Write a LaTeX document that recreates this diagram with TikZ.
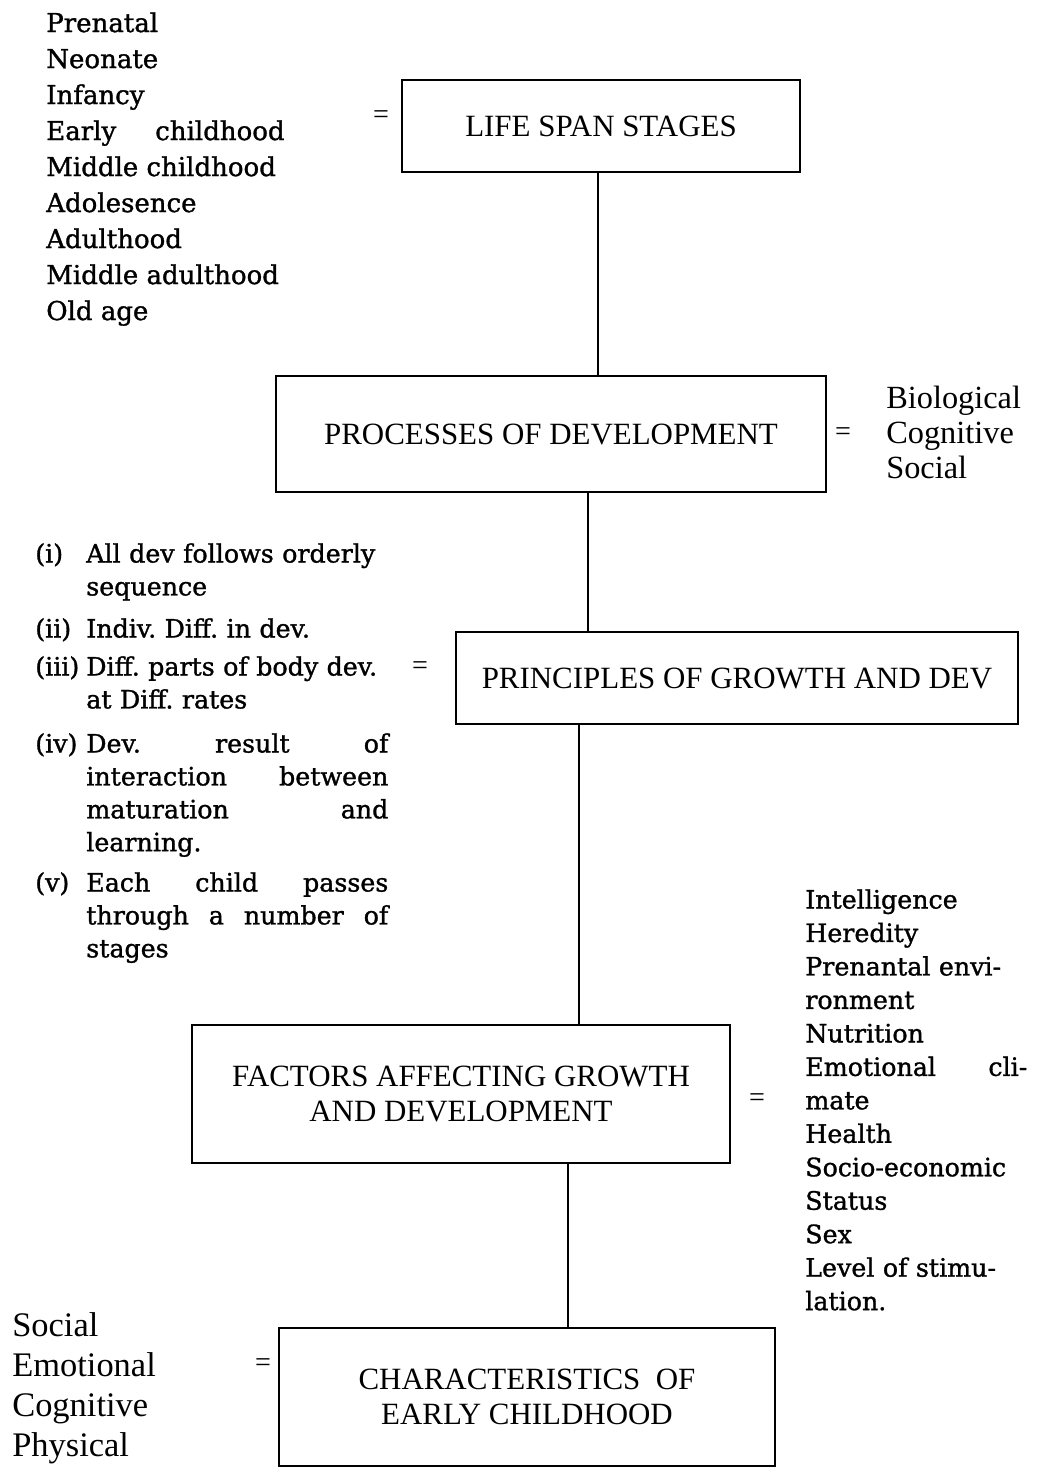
\documentclass[tikz,border=0pt]{standalone}
\usepackage{fontspec}
\setmainfont{Liberation Serif}
\newfontfamily\listfont[FakeBold=1.2]{DejaVu Serif}
\usetikzlibrary{positioning}
\frenchspacing

\begin{document}
\begin{tikzpicture}[
    x=0.025cm, y=-0.025cm,
    box/.style={rectangle, draw, line width=1.5pt, align=center,
                font=\fontsize{22}{25}\selectfont},
    conn/.style={line width=1.5pt},
    eq/.style={inner sep=0pt, font=\fontsize{20}{20}\selectfont},
    schlist/.style={align=left, anchor=north west, inner sep=0pt,
                    font=\listfont\fontsize{18.5}{25.6}\selectfont},
    item/.style={align=left, anchor=north west, inner sep=0pt, text width=7.55cm,
                 font=\listfont\fontsize{18}{23.4}\selectfont},
    itemno/.style={anchor=north west, inner sep=0pt,
                   font=\listfont\fontsize{18}{23.4}\selectfont},
    romlist/.style={align=left, anchor=north west, inner sep=0pt,
                    font=\fontsize{23}{24.9}\selectfont}
]
\useasboundingbox (0,0) rectangle (1047,1477);

% Main boxes
\node[box, minimum width=9.93cm, minimum height=2.3cm]   (life)    at (601,126)  {LIFE SPAN STAGES};
\node[box, minimum width=13.75cm, minimum height=2.9cm]  (proc)    at (551,434)  {PROCESSES OF DEVELOPMENT};
\node[box, minimum width=14.03cm, minimum height=2.28cm] (princ)   at (737,678)  {PRINCIPLES OF GROWTH AND DEV};
\node[box, minimum width=13.45cm, minimum height=3.45cm] (factors) at (461,1094) {FACTORS AFFECTING GROWTH\\AND DEVELOPMENT};
\node[box, minimum width=12.38cm, minimum height=3.45cm] (charac)  at (527,1397) {CHARACTERISTICS\ \ OF\\EARLY CHILDHOOD};

% Spine
\draw[conn] (life.south -| 598,0)    -- (proc.north -| 598,0);
\draw[conn] (proc.south -| 588,0)    -- (princ.north -| 588,0);
\draw[conn] (princ.south -| 579,0)   -- (factors.north -| 579,0);
\draw[conn] (factors.south -| 568,0) -- (charac.north -| 568,0);

% Equals signs
\node[eq] (eq1) at (381,117)  {=};
\node[eq] (eq2) at (843,434)  {=};
\node[eq] (eq3) at (420,668)  {=};
\node[eq] (eq4) at (757,1100) {=};
\node[eq] (eq5) at (263,1365) {=};

% Stages
\node[schlist] (stages) at (46,12) {Prenatal\\ Neonate\\ Infancy\\ Early\hspace{1.5em}childhood\\
    Middle childhood\\ Adolesence\\ Adulthood\\ Middle adulthood\\ Old age};

% Processes
\node[romlist] (kinds) at (886,386) {Biological\\ Cognitive\\ Social};

% Principles
\node[itemno] (n1) at (35,543) {(i)};
\node[item]   (p1) at (86,543) {All dev follows orderly\\ sequence};
\node[itemno] (n2) at (35,618) {(ii)};
\node[item]   (p2) at (86,618) {Indiv. Diff. in dev.};
\node[itemno] (n3) at (35,656) {(iii)};
\node[item]   (p3) at (86,656) {Diff. parts of body dev.\\ at Diff. rates};
\node[itemno] (n4) at (35,733) {(iv)};
\node[item]   (p4) at (86,733) {Dev.\hfill result\hfill of\\ interaction\hfill between\\
    maturation\hfill and\\ learning.};
\node[itemno] (n5) at (35,872) {(v)};
\node[item]   (p5) at (86,872) {Each\hfill child\hfill passes\\ through\hfill a\hfill number\hfill of\\ stages};

% Factors
\node[schlist, text width=5.55cm, font=\listfont\fontsize{18}{23.8}\selectfont] (factlist) at (805,889)
    {Intelligence\\ Heredity\\ Prenantal envi-\\ ronment\\ Nutrition\\ Emotional\hfill cli-\\ mate\\
     Health\\ Socio-economic\\ Status\\ Sex\\ Level of stimu-\\ lation.};

% Characteristics
\node[romlist, font=\fontsize{24.5}{28.4}\selectfont] (areas) at (12,1312)
    {Social\\ Emotional\\ Cognitive\\ Physical};
\end{tikzpicture}
\end{document}
